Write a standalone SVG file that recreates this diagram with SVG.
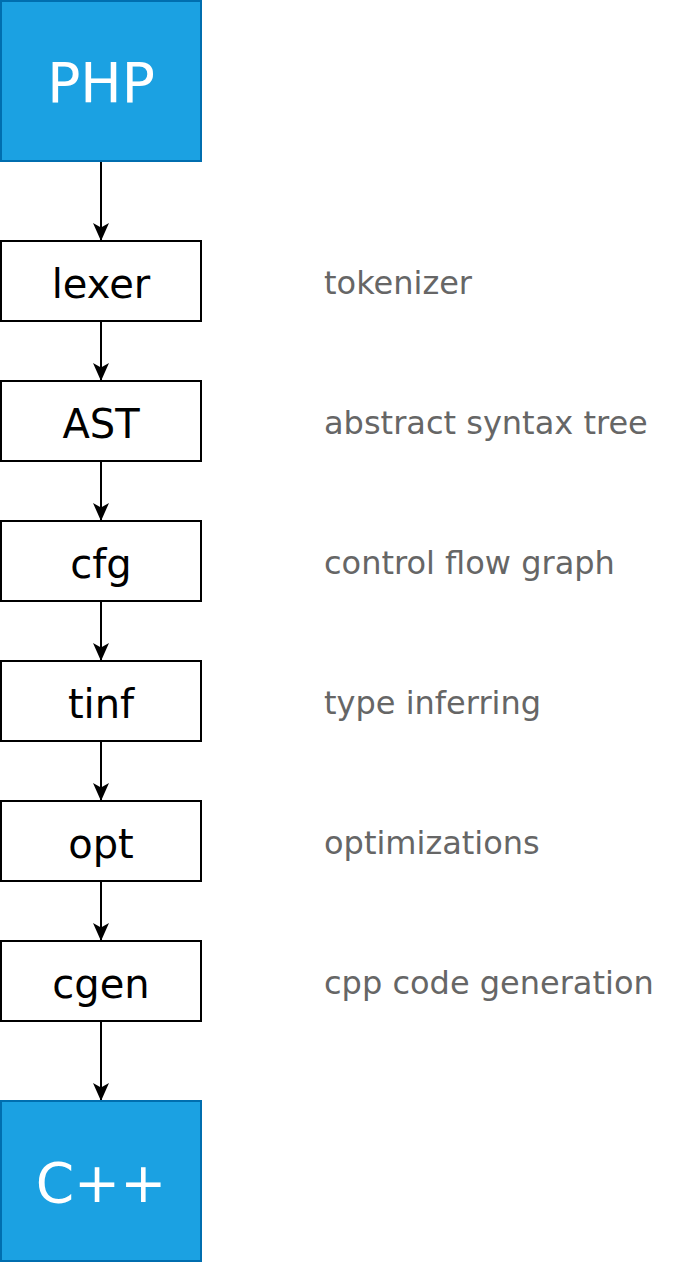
<svg xmlns="http://www.w3.org/2000/svg" width="682" height="1262" viewBox="0 0 682 1262">
<style>
.io{fill:#1ba1e2;stroke:#006eaf;stroke-width:2}
.st{fill:#ffffff;stroke:#000000;stroke-width:2}
.big{font-family:"DejaVu Sans",Verdana,sans-serif;font-size:55px;fill:#ffffff;text-anchor:middle}
.lbl{font-family:"DejaVu Sans",Verdana,sans-serif;font-size:40px;fill:#000000;text-anchor:middle}
.note{font-family:"DejaVu Sans",Verdana,sans-serif;font-size:32px;fill:#666666}
.edge{stroke:#000000;stroke-width:2;fill:none;marker-end:url(#arr)}
</style>
<defs>
<marker id="arr" viewBox="0 0 18 18" refX="17" refY="9" markerWidth="18" markerHeight="18" markerUnits="userSpaceOnUse" orient="auto">
<path d="M0,1 L18,9 L0,17 L4.5,9 Z" fill="#000000"/>
</marker>
</defs>
<g id="connectors">
<path class="edge" d="M101,161 V240"/>
<path class="edge" d="M101,321 V380"/>
<path class="edge" d="M101,461 V520"/>
<path class="edge" d="M101,601 V660"/>
<path class="edge" d="M101,741 V800"/>
<path class="edge" d="M101,881 V940"/>
<path class="edge" d="M101,1021 V1100"/>
</g>
<g id="php"><rect class="io" x="1" y="1" width="200" height="160"/><text class="big" x="101" y="102">PHP</text></g>
<g id="lexer"><rect class="st" x="1" y="241" width="200" height="80"/><text class="lbl" x="101" y="298">lexer</text></g>
<g id="ast"><rect class="st" x="1" y="381" width="200" height="80"/><text class="lbl" x="101" y="438">AST</text></g>
<g id="cfg"><rect class="st" x="1" y="521" width="200" height="80"/><text class="lbl" x="101" y="578">cfg</text></g>
<g id="tinf"><rect class="st" x="1" y="661" width="200" height="80"/><text class="lbl" x="101" y="718">tinf</text></g>
<g id="opt"><rect class="st" x="1" y="801" width="200" height="80"/><text class="lbl" x="101" y="858">opt</text></g>
<g id="cgen"><rect class="st" x="1" y="941" width="200" height="80"/><text class="lbl" x="101" y="998">cgen</text></g>
<g id="cpp"><rect class="io" x="1" y="1101" width="200" height="160"/><text class="big" x="101" y="1202">C++</text></g>
<g id="notes">
<text class="note" x="324" y="294">tokenizer</text>
<text class="note" x="324" y="434">abstract syntax tree</text>
<text class="note" x="324" y="574">control flow graph</text>
<text class="note" x="324" y="714">type inferring</text>
<text class="note" x="324" y="854">optimizations</text>
<text class="note" x="324" y="994">cpp code generation</text>
</g>
</svg>
